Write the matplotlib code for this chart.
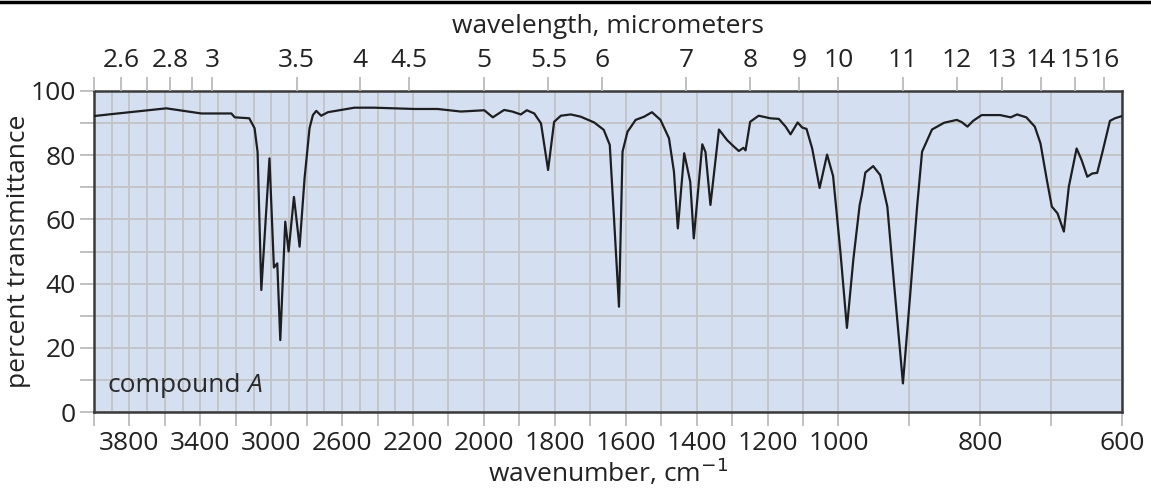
import numpy as np
import matplotlib
matplotlib.use('Agg')
import matplotlib.pyplot as plt
from matplotlib.lines import Line2D

plt.rcParams['font.family'] = ['Open Sans', 'DejaVu Sans']

# ------------------------------------------------------------------------
#### spectrum data
wavenumber = [4000, 3900, 3592, 3394, 3225, 3206, 3124, 3094, 3077, 3056,
              3010, 2985, 2966, 2949, 2921, 2902, 2872, 2840, 2812, 2784,
              2765, 2746, 2718, 2680, 2531, 2418, 2196, 2131, 2065, 1999,
              1975, 1943, 1920, 1896, 1879, 1858, 1839, 1819, 1802, 1783,
              1755, 1727, 1689, 1662, 1645, 1633, 1619, 1609, 1595, 1572,
              1548, 1526, 1502, 1478, 1464, 1453, 1435, 1418, 1408, 1384,
              1375, 1361, 1337, 1314, 1295, 1281, 1268, 1262, 1249, 1225,
              1192, 1168, 1149, 1135, 1115, 1102, 1090, 1074, 1053, 1032,
              1015, 997, 988, 979, 970, 967, 962, 951, 941, 931,
              922, 909, 899, 889, 882, 868, 851, 833, 826, 818,
              810, 798, 772, 757, 748, 735, 723, 715, 706, 699,
              691, 682, 675, 664, 657, 649, 642, 635, 628, 617,
              610, 600]
transmittance = [92.2, 92.8, 94.6, 93.0, 93.0, 91.8, 91.5, 88.4, 81.0, 38.0,
                 79.0, 45.0, 46.3, 22.4, 59.3, 50.0, 67.0, 51.5, 72.8, 88.4,
                 92.5, 93.8, 92.3, 93.4, 94.8, 94.8, 94.4, 94.4, 93.6, 94.0,
                 91.8, 94.1, 93.6, 92.7, 94.0, 93.0, 89.9, 75.4, 90.4, 92.3,
                 92.7, 92.0, 90.2, 87.9, 83.2, 60.3, 32.8, 81.1, 87.3, 91.0,
                 92.0, 93.4, 91.0, 85.3, 74.9, 57.2, 80.6, 71.7, 54.1, 83.4,
                 81.0, 64.5, 88.0, 84.7, 82.7, 81.3, 82.3, 81.5, 90.4, 92.3,
                 91.5, 91.3, 88.9, 86.5, 90.2, 88.6, 88.2, 82.1, 69.8, 80.2,
                 73.5, 49.4, 26.2, 47.4, 64.5, 67.6, 74.6, 76.6, 73.8, 64.0,
                 41.1, 8.9, 35.9, 64.0, 81.1, 88.0, 90.1, 91.0, 90.3, 88.9,
                 90.7, 92.5, 92.5, 91.8, 92.7, 91.8, 88.9, 83.7, 72.3, 64.0,
                 61.9, 56.2, 70.2, 82.1, 78.5, 73.3, 74.3, 74.5, 80.6, 90.7,
                 91.5, 92.2]

wn_labels = [3800, 3400, 3000, 2600, 2200, 2000, 1800, 1600, 1400, 1200, 1000, 800, 600]
wl_ticks = [2.5, 2.6, 2.7, 2.8, 2.9, 3, 3.5, 4, 4.5, 5, 5.5, 6, 7, 8, 9, 10,
            11, 12, 13, 14, 15, 16]
wl_labels = ['', '2.6', '', '2.8', '', '3', '3.5', '4', '4.5', '5', '5.5', '6',
             '7', '8', '9', '10', '11', '12', '13', '14', '15', '16']

# piecewise scale of the chart paper: 4000-2200 half, 1000-600 double
wn_breaks = [600, 1000, 2200, 4000]
pos_breaks = [0, 800, 2000, 2900]


def fwd(w):
    return np.interp(w, wn_breaks, pos_breaks)


def inv(p):
    return np.interp(p, pos_breaks, wn_breaks)


bg = '#d4e0f1'
grid_c = '#c3c3c3'
tick_c = '#b5b5b5'
frame_c = '#3a3a3a'
txt_c = '#222222'
fs = 19

fig = plt.figure(figsize=(11.51, 4.92), dpi=100)
ax = fig.add_axes([94 / 1151, 80 / 492, 1028 / 1151, 321 / 492])
ax.set_facecolor(bg)
ax.set_xscale('function', functions=(fwd, inv))
ax.plot(wavenumber, transmittance, color='#1e1e1e', linewidth=1.6, zorder=3)
ax.set_xlim(4000, 600)
ax.set_ylim(0, 100)

# bottom ticks: every 200 above 2200, every 100 below
major_x = list(range(4000, 2200, -200)) + list(range(2200, 599, -100))
ax.set_xticks(major_x)
ax.set_xticklabels([str(v) if v in wn_labels else '' for v in major_x])
minor_x = [v for v in range(600, 4001, 100) if v not in major_x]
ax.set_xticks(minor_x, minor=True)

major_y = list(range(0, 101, 10))
ax.set_yticks(major_y)
ax.set_yticklabels([str(v) if v % 20 == 0 else '' for v in major_y])

ax.grid(True, which='both', color=grid_c, linewidth=1.3, zorder=0)
ax.set_axisbelow(True)
ax.tick_params(axis='both', which='major', length=10, width=1.2, color=tick_c,
               labelsize=fs, labelcolor=txt_c)
ax.tick_params(axis='x', which='major', pad=4)
ax.tick_params(axis='y', which='major', pad=3)
ax.tick_params(axis='x', which='minor', length=0)
for s in ax.spines.values():
    s.set_color(frame_c)
    s.set_linewidth(1.8)

ax.set_xlabel('wavenumber, cm$^{-1}$', fontsize=fs, color=txt_c, labelpad=0)
ax.set_ylabel('percent transmittance', fontsize=fs, color=txt_c, labelpad=0)

lbl = ax.text(0.013, 0.045, 'compound', transform=ax.transAxes, fontsize=fs,
              color='#2a2a2a', va='bottom')
ax.annotate('A', xy=(1, 0), xycoords=lbl, xytext=(5, 0), textcoords='offset points',
            fontsize=fs, style='italic', color='#2a2a2a', va='bottom', ha='left')

# top axis: wavelength in micrometers
top = ax.twiny()
top.set_xscale('function', functions=(fwd, inv))
top.set_xlim(4000, 600)
top.set_xticks([10000.0 / v for v in wl_ticks])
top.set_xticklabels(wl_labels)
top.tick_params(axis='x', which='major', length=10, width=1.2, color=tick_c,
                labelsize=fs, labelcolor=txt_c, pad=3)
top.tick_params(axis='x', which='minor', length=0)
for s in top.spines.values():
    s.set_visible(False)
top.set_xlabel('wavelength, micrometers', fontsize=fs, color=txt_c, labelpad=11)

fig.add_artist(Line2D([0, 1], [0.995, 0.995], color='black', linewidth=2.5,
                      transform=fig.transFigure))

fig.savefig('out.png', dpi=100)
